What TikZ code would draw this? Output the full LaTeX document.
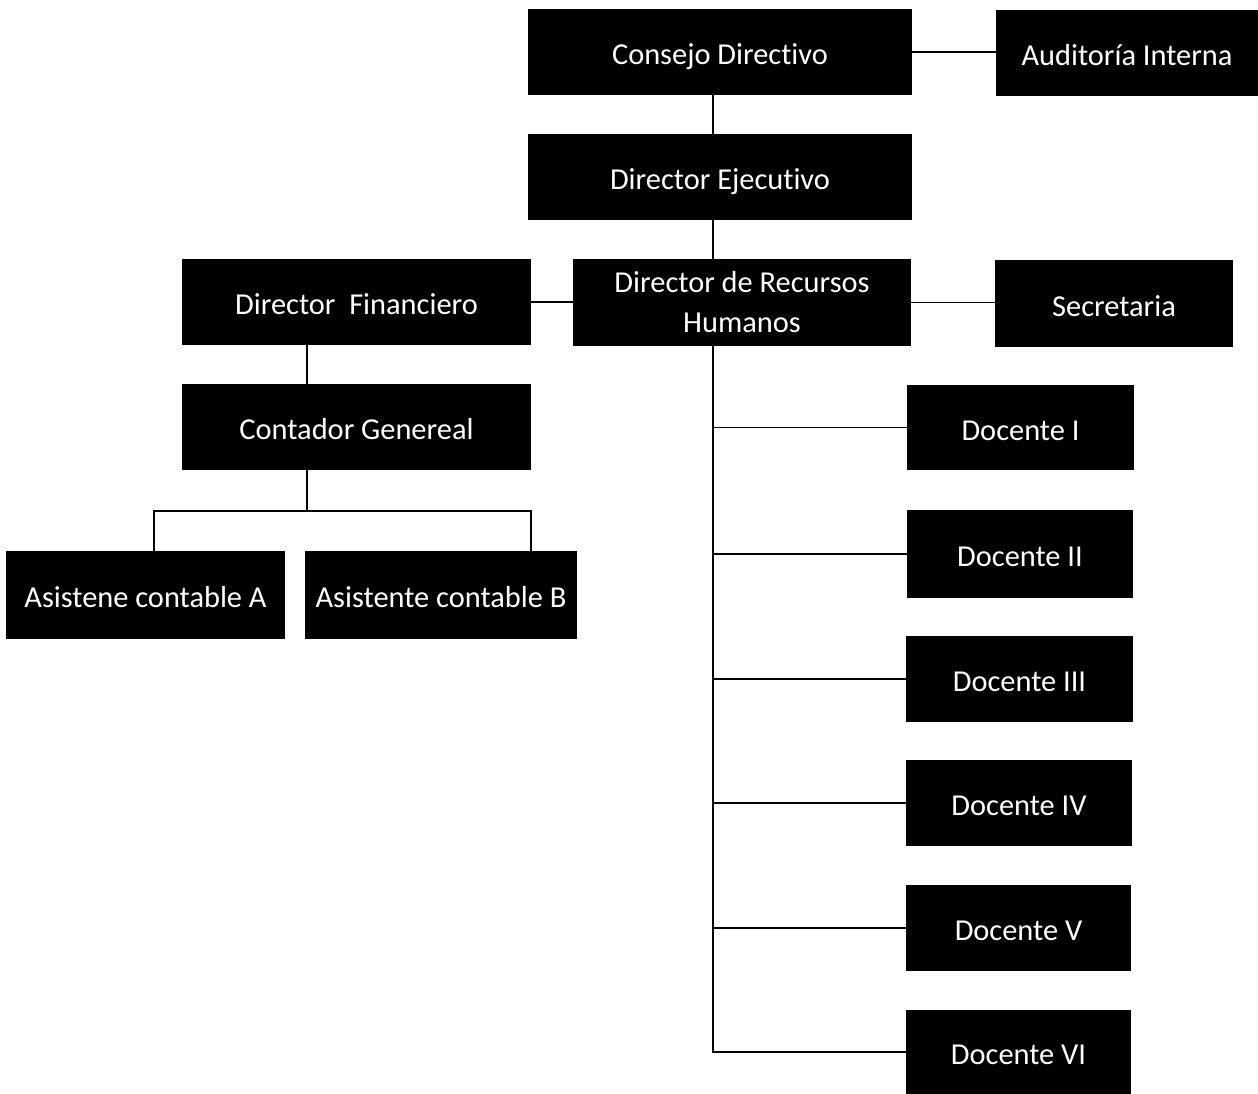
\documentclass[tikz,border=0pt]{standalone}
\usepackage{fontspec}
\setmainfont{Carlito}[Ligatures=NoCommon]
\begin{document}
\begin{tikzpicture}[x=1pt,y=-1pt,
  box/.style={fill=black, text=white, inner sep=0pt, align=center,
    font=\fontsize{30.4}{40}\selectfont},
  one/.style={box, text height=31pt, text depth=6pt},
  conn/.style={draw=black, line width=1.6pt}]
\useasboundingbox (0,0) rectangle (1258,1094);
\node[one, minimum width=384, minimum height=86] (consejo) at (720,52) {Consejo Directivo};
\node[one, minimum width=262, minimum height=86] (audit) at (1127,53) {Auditoría Interna};
\node[one, minimum width=384, minimum height=86] (ejec) at (720,177) {Director Ejecutivo};
\node[one, minimum width=349, minimum height=86] (fin) at (356.5,302) {Director\ \ Financiero};
\node[box, minimum width=338, minimum height=87] (rrhh) at (742,302.5) {Director de Recursos\\Humanos};
\node[one, minimum width=238, minimum height=87] (sec) at (1114,303.5) {Secretaria};
\node[one, minimum width=349, minimum height=86] (cont) at (356.5,427) {Contador Genereal};
\node[one, minimum width=279, minimum height=88] (asA) at (145.5,595) {Asistene contable A};
\node[one, minimum width=272, minimum height=88] (asB) at (441,595) {Asistente contable B};
\node[one, minimum width=227, minimum height=85] (d1) at (1020.5,427.5) {Docente I};
\node[one, minimum width=226, minimum height=88] (d2) at (1020,554) {Docente II};
\node[one, minimum width=227, minimum height=86] (d3) at (1019.5,679) {Docente III};
\node[one, minimum width=226, minimum height=86] (d4) at (1019,803) {Docente IV};
\node[one, minimum width=225, minimum height=86] (d5) at (1018.5,928) {Docente V};
\node[one, minimum width=225, minimum height=84] (d6) at (1018.5,1052) {Docente VI};
\coordinate (tx) at (713,0);
\coordinate (fx) at (307,0);
\coordinate (ax) at (154,0);
\coordinate (bx) at (531,0);
\coordinate (split) at (307,511);
\draw[conn] (consejo.east) -- (audit.west |- consejo.east);
\draw[conn] (consejo.south -| tx) -- (ejec.north -| tx);
\draw[conn] (ejec.south -| tx) -- (rrhh.north -| tx);
\draw[conn] (fin.east) -- (rrhh.west |- fin.east);
\draw[conn] (rrhh.east) -- (sec.west |- rrhh.east);
\draw[conn] (fin.south -| fx) -- (cont.north -| fx);
\draw[conn] (cont.south -| fx) -- (split);
\draw[conn] (asA.north -| ax) |- (split) -| (asB.north -| bx);
\draw[conn] (rrhh.south -| tx) |- (d6.west);
\foreach \d in {d1,d2,d3,d4,d5}
  \draw[conn] (tx |- \d.west) -- (\d.west);
\end{tikzpicture}
\end{document}
